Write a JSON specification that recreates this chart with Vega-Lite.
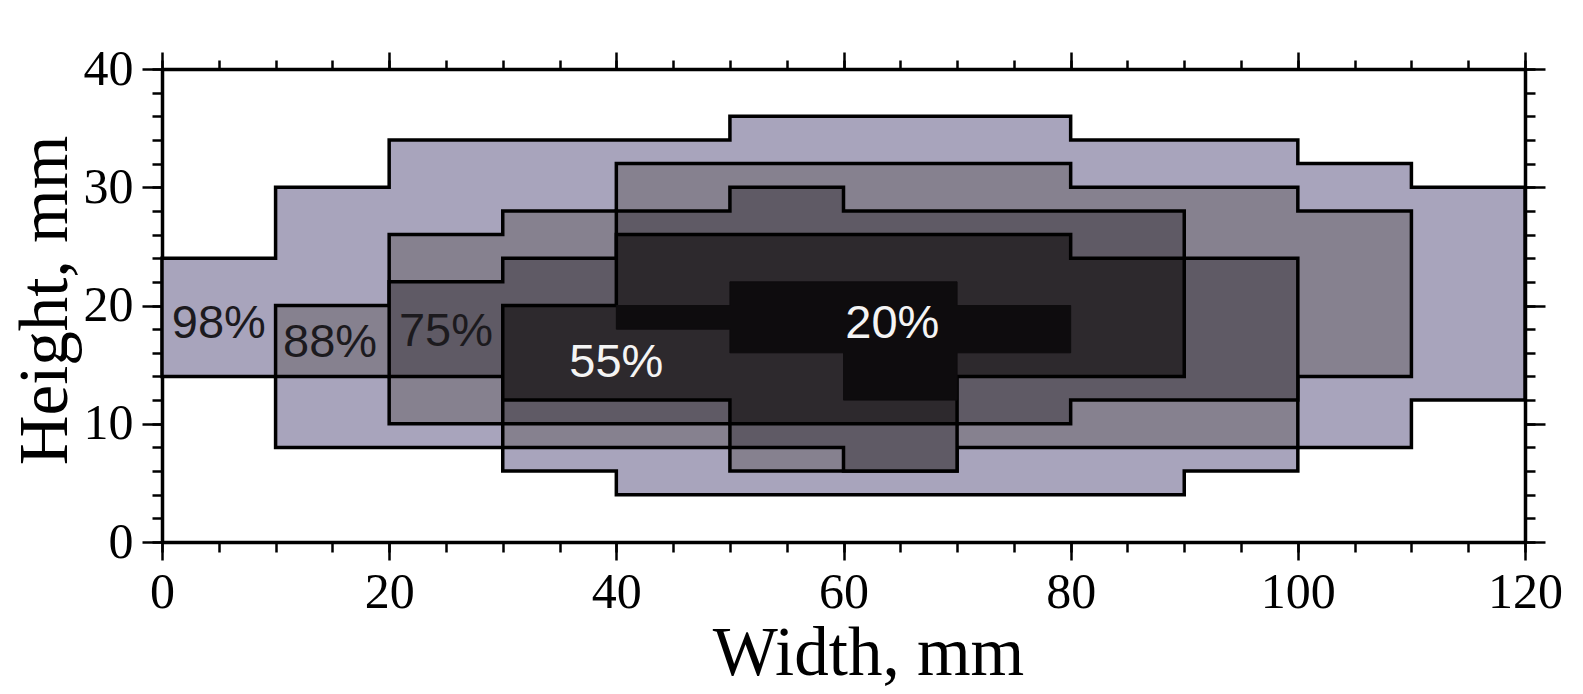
{
  "$schema": "https://vega.github.io/schema/vega-lite/v6.json",
  "autosize": "none",
  "width": 1363,
  "height": 473,
  "padding": {"left": 162, "top": 69, "right": 58, "bottom": 152},
  "background": "white",
  "config": {
    "view": {"stroke": null},
    "axis": {
      "grid": false,
      "domainColor": "black",
      "domainWidth": 3.5,
      "tickColor": "black",
      "tickWidth": 2.5,
      "labelColor": "black",
      "labelFont": "Liberation Serif",
      "labelFontSize": 50,
      "labelFlush": false,
      "labelOverlap": false,
      "labelBound": false,
      "titleFont": "Liberation Serif",
      "titleFontSize": 69,
      "titleFontWeight": "normal",
      "titleColor": "black",
      "zindex": 1
    }
  },
  "datasets": {
    "regions": [
      {"region": "98%", "x": 0, "lo": 14, "hi": 24},
      {"region": "98%", "x": 10, "lo": 8, "hi": 30},
      {"region": "98%", "x": 20, "lo": 8, "hi": 34},
      {"region": "98%", "x": 30, "lo": 6, "hi": 34},
      {"region": "98%", "x": 40, "lo": 4, "hi": 34},
      {"region": "98%", "x": 50, "lo": 4, "hi": 36},
      {"region": "98%", "x": 60, "lo": 4, "hi": 36},
      {"region": "98%", "x": 70, "lo": 4, "hi": 36},
      {"region": "98%", "x": 80, "lo": 4, "hi": 34},
      {"region": "98%", "x": 90, "lo": 6, "hi": 34},
      {"region": "98%", "x": 100, "lo": 8, "hi": 32},
      {"region": "98%", "x": 110, "lo": 12, "hi": 30},
      {"region": "98%", "x": 120, "lo": 12, "hi": 30},
      {"region": "88%", "x": 10, "lo": 14, "hi": 20},
      {"region": "88%", "x": 20, "lo": 10, "hi": 26},
      {"region": "88%", "x": 30, "lo": 8, "hi": 28},
      {"region": "88%", "x": 40, "lo": 8, "hi": 32},
      {"region": "88%", "x": 50, "lo": 6, "hi": 32},
      {"region": "88%", "x": 60, "lo": 6, "hi": 32},
      {"region": "88%", "x": 70, "lo": 8, "hi": 32},
      {"region": "88%", "x": 80, "lo": 8, "hi": 30},
      {"region": "88%", "x": 90, "lo": 8, "hi": 30},
      {"region": "88%", "x": 100, "lo": 14, "hi": 28},
      {"region": "88%", "x": 110, "lo": 14, "hi": 28},
      {"region": "75%", "x": 20, "lo": 14, "hi": 22},
      {"region": "75%", "x": 30, "lo": 10, "hi": 24},
      {"region": "75%", "x": 40, "lo": 10, "hi": 28},
      {"region": "75%", "x": 50, "lo": 8, "hi": 30},
      {"region": "75%", "x": 60, "lo": 6, "hi": 28},
      {"region": "75%", "x": 70, "lo": 10, "hi": 28},
      {"region": "75%", "x": 80, "lo": 12, "hi": 28},
      {"region": "75%", "x": 90, "lo": 12, "hi": 24},
      {"region": "75%", "x": 100, "lo": 12, "hi": 24},
      {"region": "55%", "x": 30, "lo": 12, "hi": 20},
      {"region": "55%", "x": 40, "lo": 12, "hi": 26},
      {"region": "55%", "x": 50, "lo": 10, "hi": 26},
      {"region": "55%", "x": 60, "lo": 10, "hi": 26},
      {"region": "55%", "x": 70, "lo": 14, "hi": 26},
      {"region": "55%", "x": 80, "lo": 14, "hi": 24},
      {"region": "55%", "x": 90, "lo": 14, "hi": 24},
      {"region": "20%", "x": 40, "lo": 18, "hi": 20},
      {"region": "20%", "x": 50, "lo": 16, "hi": 22},
      {"region": "20%", "x": 60, "lo": 12, "hi": 22},
      {"region": "20%", "x": 70, "lo": 16, "hi": 20},
      {"region": "20%", "x": 80, "lo": 16, "hi": 20}
    ],
    "labels": [
      {"label": "98%", "x": 5.0, "y": 18.4},
      {"label": "88%", "x": 14.8, "y": 16.8},
      {"label": "75%", "x": 25.0, "y": 17.8},
      {"label": "55%", "x": 40.0, "y": 15.1},
      {"label": "20%", "x": 64.3, "y": 18.4}
    ]
  },
  "resolve": {"axis": {"x": "independent", "y": "independent"}},
  "layer": [
    {
      "data": {"name": "regions"},
      "transform": [{"filter": "datum.region === '98%'"}],
      "mark": {"type": "area", "interpolate": "step-after", "fill": "#a8a4bc", "fillOpacity": 1, "stroke": "black", "strokeWidth": 3.5, "strokeJoin": "miter"},
      "encoding": {
        "x": {"field": "x", "type": "quantitative", "scale": {"domain": [0, 120], "nice": false},
          "axis": {"orient": "bottom", "values": [0, 20, 40, 60, 80, 100, 120], "tickSize": 18, "labelPadding": 7, "title": "Width, mm", "titleX": 706, "titleY": 132, "titleAlign": "center", "titleBaseline": "alphabetic", "titleAnchor": null}},
        "y": {"field": "hi", "type": "quantitative", "scale": {"domain": [0, 40], "nice": false},
          "axis": {"orient": "left", "values": [0, 10, 20, 30, 40], "tickSize": 20, "labelPadding": 9, "title": "Height, mm", "titleAngle": -90, "titleX": -96, "titleY": 231, "titleAlign": "center", "titleBaseline": "alphabetic", "titleAnchor": null}},
        "y2": {"field": "lo"}
      }
    },
    {
      "data": {"name": "regions"},
      "transform": [{"filter": "datum.region === '88%'"}],
      "mark": {"type": "area", "interpolate": "step-after", "fill": "#86818f", "fillOpacity": 1, "stroke": "black", "strokeWidth": 3.5, "strokeJoin": "miter"},
      "encoding": {
        "x": {"field": "x", "type": "quantitative", "scale": {"domain": [0, 120], "nice": false},
          "axis": {"orient": "bottom", "values": [0, 5, 10, 15, 20, 25, 30, 35, 40, 45, 50, 55, 60, 65, 70, 75, 80, 85, 90, 95, 100, 105, 110, 115, 120], "tickSize": 10, "labels": false, "domain": false, "title": null}},
        "y": {"field": "hi", "type": "quantitative", "scale": {"domain": [0, 40], "nice": false},
          "axis": {"orient": "left", "values": [0, 2, 4, 6, 8, 10, 12, 14, 16, 18, 20, 22, 24, 26, 28, 30, 32, 34, 36, 38, 40], "tickSize": 10, "labels": false, "domain": false, "title": null}},
        "y2": {"field": "lo"}
      }
    },
    {
      "data": {"name": "regions"},
      "transform": [{"filter": "datum.region === '75%'"}],
      "mark": {"type": "area", "interpolate": "step-after", "fill": "#5f5a65", "fillOpacity": 1, "stroke": "black", "strokeWidth": 3.5, "strokeJoin": "miter"},
      "encoding": {
        "x": {"field": "x", "type": "quantitative", "scale": {"domain": [0, 120], "nice": false},
          "axis": {"orient": "top", "values": [0, 20, 40, 60, 80, 100, 120], "tickSize": 17, "labels": false, "title": null}},
        "y": {"field": "hi", "type": "quantitative", "scale": {"domain": [0, 40], "nice": false},
          "axis": {"orient": "right", "values": [0, 10, 20, 30, 40], "tickSize": 20, "labels": false, "title": null}},
        "y2": {"field": "lo"}
      }
    },
    {
      "data": {"name": "regions"},
      "transform": [{"filter": "datum.region === '55%'"}],
      "mark": {"type": "area", "interpolate": "step-after", "fill": "#2d292d", "fillOpacity": 1, "stroke": "black", "strokeWidth": 3.5, "strokeJoin": "miter"},
      "encoding": {
        "x": {"field": "x", "type": "quantitative", "scale": {"domain": [0, 120], "nice": false},
          "axis": {"orient": "top", "values": [0, 5, 10, 15, 20, 25, 30, 35, 40, 45, 50, 55, 60, 65, 70, 75, 80, 85, 90, 95, 100, 105, 110, 115, 120], "tickSize": 9, "labels": false, "domain": false, "title": null}},
        "y": {"field": "hi", "type": "quantitative", "scale": {"domain": [0, 40], "nice": false},
          "axis": {"orient": "right", "values": [0, 2, 4, 6, 8, 10, 12, 14, 16, 18, 20, 22, 24, 26, 28, 30, 32, 34, 36, 38, 40], "tickSize": 10, "labels": false, "domain": false, "title": null}},
        "y2": {"field": "lo"}
      }
    },
    {
      "data": {"name": "regions"},
      "transform": [{"filter": "datum.region === '20%'"}],
      "mark": {"type": "area", "interpolate": "step-after", "fill": "#0e0c0e", "fillOpacity": 1, "stroke": "#0e0c0e", "strokeWidth": 1, "strokeJoin": "miter"},
      "encoding": {
        "x": {"field": "x", "type": "quantitative", "scale": {"domain": [0, 120], "nice": false}, "axis": null},
        "y": {"field": "hi", "type": "quantitative", "scale": {"domain": [0, 40], "nice": false}, "axis": null},
        "y2": {"field": "lo"}
      }
    },
    {
      "data": {"name": "labels"},
      "transform": [{"filter": "datum.label === '98%' || datum.label === '88%' || datum.label === '75%'"}],
      "mark": {"type": "text", "font": "Liberation Sans", "fontSize": 47, "align": "center", "baseline": "middle", "color": "#1c1a1e"},
      "encoding": {
        "x": {"field": "x", "type": "quantitative", "axis": null},
        "y": {"field": "y", "type": "quantitative", "axis": null},
        "text": {"field": "label"}
      }
    },
    {
      "data": {"name": "labels"},
      "transform": [{"filter": "datum.label === '55%' || datum.label === '20%'"}],
      "mark": {"type": "text", "font": "Liberation Sans", "fontSize": 47, "align": "center", "baseline": "middle", "color": "#f4f4f4"},
      "encoding": {
        "x": {"field": "x", "type": "quantitative", "axis": null},
        "y": {"field": "y", "type": "quantitative", "axis": null},
        "text": {"field": "label"}
      }
    }
  ]
}
